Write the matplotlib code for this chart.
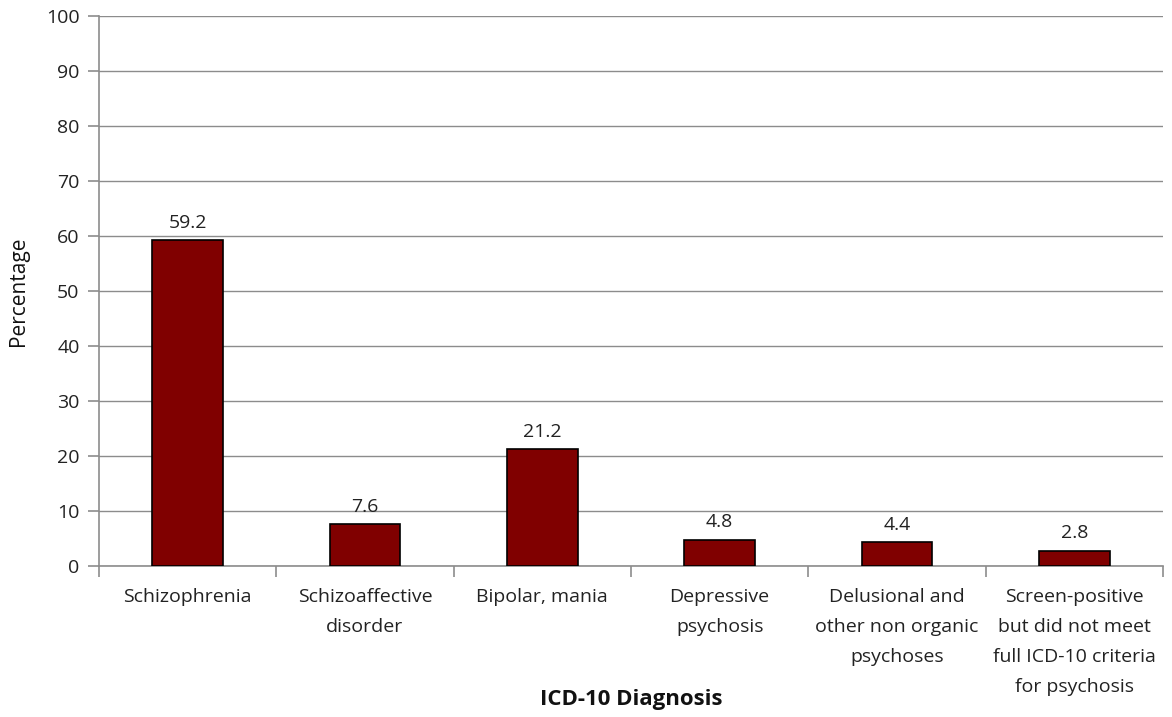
import matplotlib
matplotlib.use("Agg")
import matplotlib.pyplot as plt
import numpy as np

categories = ["Schizophrenia", "Schizoaffective\ndisorder", "Bipolar, mania",
              "Depressive\npsychosis", "Delusional and\nother non organic\npsychoses",
              "Screen-positive\nbut did not meet\nfull ICD-10 criteria\nfor psychosis"]
values = [59.2, 7.6, 21.2, 4.8, 4.4, 2.8]
yticks = list(range(0, 101, 10))

plt.rcParams['font.family'] = ['Open Sans', 'DejaVu Sans']

fig = plt.figure(figsize=(11.72, 7.17), dpi=100)
ax = fig.add_axes([99/1172, 1 - 566/717, (1163-99)/1172, (566-16)/717])

x = np.arange(len(categories))
ax.bar(x, values, width=0.4, color="#800000", edgecolor="black", linewidth=1.2, zorder=3)
for xi, v in zip(x, values):
    ax.text(xi, v + 1.5, f"{v:.1f}", ha="center", va="bottom", fontsize=14, color="#222222")

ax.set_xlim(-0.5, len(categories) - 0.5)
ax.set_ylim(0, 100)
ax.set_yticks(yticks)
ax.set_yticklabels([str(t) for t in yticks], fontsize=14, color="#222222")
ax.yaxis.grid(True, color="#8c8c8c", linewidth=1.0, zorder=0)

ax.set_xticks(x)
ax.set_xticklabels(categories, fontsize=14, color="#222222", linespacing=1.86, va="top")
ax.tick_params(axis="x", length=0, pad=16)
ax.set_xticks(np.arange(-0.5, len(categories) + 0.5, 1), minor=True)
ax.tick_params(axis="x", which="minor", length=8, color="#8c8c8c", width=1.2)
ax.tick_params(axis="y", length=8, color="#8c8c8c", width=1.2, pad=6)

for s in ["top", "right"]:
    ax.spines[s].set_visible(False)
for s in ["left", "bottom"]:
    ax.spines[s].set_color("#8c8c8c")
    ax.spines[s].set_linewidth(1.2)

ax.set_ylabel("Percentage", fontsize=15, color="#111111")
ax.yaxis.set_label_coords(-0.066, 0.5)
fig.text(0.5 * (99 + 1163) / 1172, 1 - 699/717, "ICD-10 Diagnosis", ha="center", va="center",
         fontsize=16, fontweight="bold", color="#111111")

fig.savefig("out.png", dpi=100)
